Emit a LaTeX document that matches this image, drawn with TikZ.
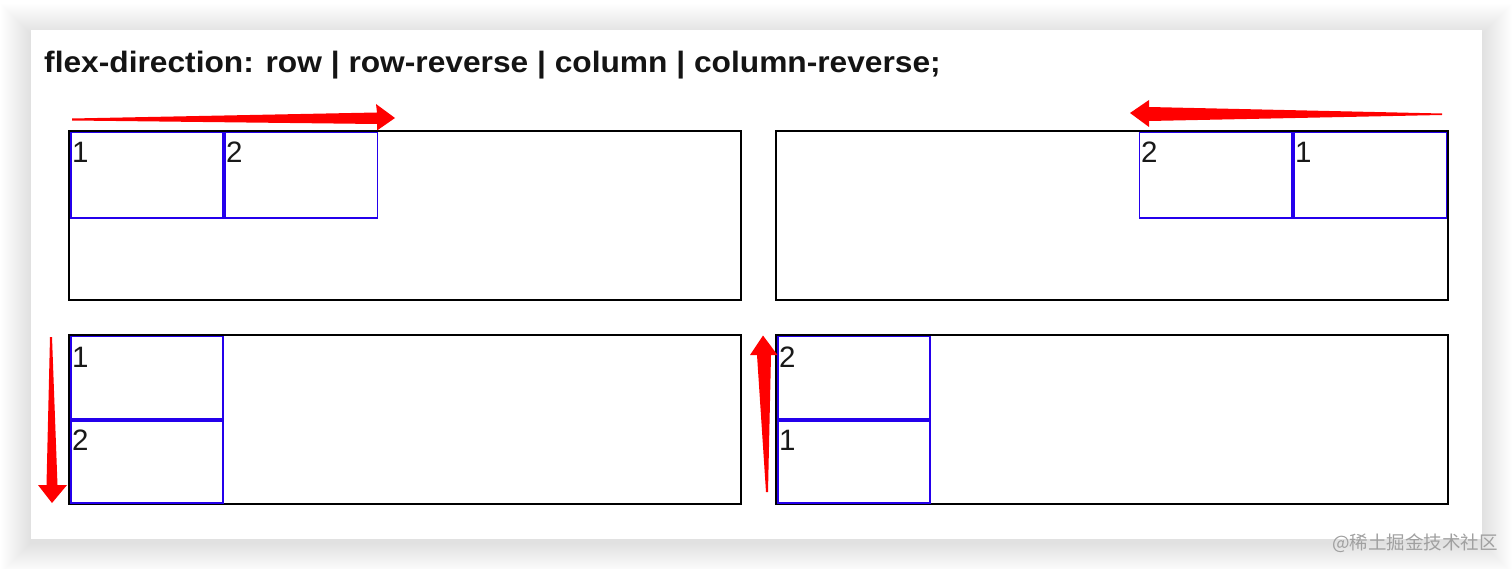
\documentclass[tikz,border=0pt]{standalone}
\usepackage{fontspec}
\setmainfont{Liberation Sans}
\newfontfamily\cjkfont{Noto Sans CJK SC}
\definecolor{itemblue}{RGB}{36,0,236}
\definecolor{arrowred}{RGB}{255,0,0}
\definecolor{wmgray}{RGB}{160,160,160}
\tikzset{
  container/.style={draw=black, line width=1.5pt},
  itembox/.style={draw=itemblue, line width=1.5pt},
  digit/.style={anchor=base west, inner sep=0pt, font=\fontsize{29.5}{30}\selectfont, text=black!90},
  redarrow/.style={fill=arrowred, draw=none},
}
\begin{document}
\begin{tikzpicture}[x=1pt,y=-1pt]
\useasboundingbox (0,0) rectangle (1512,569);
\fill[white] (0,0) rectangle (1512,569);
% soft shadow around the card
\foreach \i in {1,...,30}{
  \fill[black, opacity=0.005] (31-\i,30-\i+4) rectangle (1482+\i,539+\i+4);
}
\fill[white] (31,30) rectangle (1482,539);
% title
\node[anchor=base west, inner sep=0pt, font=\fontsize{29.5}{30}\selectfont\bfseries, text=black!92] (title) at (44,73) {\scalebox{1.075}[1]{flex-direction: row | row-reverse | column | column-reverse;}};
% containers
\draw[container] (69,131) rectangle (741,300);
\draw[container] (776,131) rectangle (1448,300);
\draw[container] (69,335) rectangle (741,504);
\draw[container] (776,335) rectangle (1448,504);
% row
\draw[itembox] (70.8,132.3) rectangle (222.8,217.8);
\draw[itembox] (225.2,132.3) rectangle (377.3,217.8);
\node[digit] (r1) at (72,163) {1};
\node[digit] (r2) at (226,163) {2};
% row-reverse
\draw[itembox] (1139.3,132.3) rectangle (1291.8,217.8);
\draw[itembox] (1294.2,132.3) rectangle (1446.3,217.8);
\node[digit] (rr2) at (1141,163) {2};
\node[digit] (rr1) at (1295,163) {1};
% column
\draw[itembox] (70.8,336.3) rectangle (222.8,418.8);
\draw[itembox] (70.8,421.2) rectangle (222.8,502.8);
\node[digit] (c1) at (72,367) {1};
\node[digit] (c2) at (72,450) {2};
% column-reverse
\draw[itembox] (777.8,336.3) rectangle (929.8,418.8);
\draw[itembox] (777.8,421.2) rectangle (929.8,502.8);
\node[digit] (cr2) at (779,367) {2};
\node[digit] (cr1) at (779,450) {1};
% arrows
\fill[redarrow] (72,118.5) -- (377,112.5) -- (376,104) -- (395,118) -- (377,130.5) -- (377,124) -- (72,120.5) -- cycle;
\fill[redarrow] (1442,113.5) -- (1149,107) -- (1149,100) -- (1130,113) -- (1149,127) -- (1149,121) -- (1442,115) -- cycle;
\fill[redarrow] (52,337) -- (57.5,485) -- (67,485) -- (52,503) -- (38,485) -- (46.5,485) -- (50,337) -- cycle;
\fill[redarrow] (768,492) -- (771,355) -- (777.5,355) -- (763,335.5) -- (750,355) -- (757,355) -- (766,492) -- cycle;
% watermark
\node[anchor=base west, inner sep=0pt, font=\cjkfont\fontsize{18.5}{19}\selectfont, text=wmgray] (wm) at (1332,549) {@稀土掘金技术社区};
\end{tikzpicture}
\end{document}
